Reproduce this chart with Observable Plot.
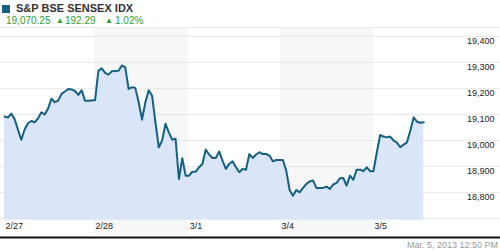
<!DOCTYPE html>
<html>
<head>
<meta charset="utf-8">
<script src="https://cdn.jsdelivr.net/npm/d3@7"></script>
<script src="https://cdn.jsdelivr.net/npm/@observablehq/plot@0.6"></script>
<style>
  html, body { margin: 0; padding: 0; background: #fff; overflow: hidden; }
  body { width: 500px; height: 250px; font-family: Arial, "Liberation Sans", sans-serif; }
  #header { position: relative; height: 27px; border-bottom: 1px solid #ececec; }
  #header .icon { position: absolute; left: 2px; top: 5px; width: 8px; height: 8px; background: #1a5f7e; }
  #header .title { position: absolute; left: 16px; top: 2px; font-size: 11px; font-weight: bold; color: #333; white-space: nowrap; }
  #header .quote { position: absolute; top: 14.5px; font-size: 10px; color: #2e9e2e; white-space: nowrap; }
  #header .tri { position: absolute; top: 16px; font-size: 8px; color: #2e9e2e; }
  #chart { height: 212px; }
  #caption { height: 10px; text-align: right; padding-right: 2px; font-size: 9px; color: #999; line-height: 10px; }
</style>
</head>
<body>
<div id="header">
  <div class="icon"></div>
  <div class="title">S&amp;P BSE SENSEX IDX</div>
  <div class="quote" style="left:6px">19,070.25</div>
  <div class="tri" style="left:56px">&#9650;</div>
  <div class="quote" style="left:65px">192.29</div>
  <div class="tri" style="left:105px">&#9650;</div>
  <div class="quote" style="left:115px">1.02%</div>
</div>
<div id="chart"></div>
<div id="caption">Mar. 5, 2013 12:50 PM</div>
<script>
// Index level per ~15-minute interval, 2/27 to 3/5 (midday)
const values = [
  19092, 19088, 19103, 19083, 19042, 19003, 19042, 19066, 19075, 19070,
  19085, 19108, 19100, 19123, 19160, 19147, 19153, 19179, 19188, 19198,
  19196, 19190, 19175, 19193, 19153, 19153, 19154, 19155, 19268, 19277,
  19260, 19253, 19266, 19267, 19268, 19288, 19281, 19198, 19204, 19202,
  19147, 19080, 19147, 19193, 19172, 19070, 18974, 19000, 19064, 19031,
  19003, 19007, 18852, 18932, 18865, 18865, 18880, 18880, 18897, 18910,
  18965, 18946, 18933, 18933, 18958, 18923, 18891, 18910, 18920, 18897,
  18878, 18891, 18888, 18948, 18933, 18946, 18955, 18948, 18948, 18942,
  18920, 18925, 18925, 18925, 18884, 18810, 18788, 18810, 18801, 18818,
  18833, 18843, 18846, 18818, 18818, 18818, 18823, 18814, 18831, 18837,
  18855, 18856, 18827, 18865, 18849, 18888, 18888, 18882, 18897, 18882,
  18882, 18955, 19021, 19015, 19012, 19015, 19000, 18992, 18974, 18984,
  18993, 19038, 19089, 19072, 19068, 19070.25
];
// Session boundaries (in interval units) and their labels
const dayStarts = [0, 26.8, 54.9, 82.3, 110];
const dayEnds = [26.8, 54.9, 82.3, 110, 137.5];
const dayLabels = ["2/27", "2/28", "3/1", "3/4", "3/5"];
const shadedDays = ["2/28", "3/4"];
const gridTicks = [18700, 18800, 18900, 19000, 19100, 19200, 19300, 19400];
const labelTicks = [18800, 18900, 19000, 19100, 19200, 19300, 19400];
const yDomain = [18639, 19430];
const areaBase = 18694;

const series = values.map((v, i) => ({i, v}));
const days = dayLabels.map((label, k) => ({label, start: dayStarts[k], end: dayEnds[k]}));
const bands = days.filter(d => shadedDays.includes(d.label));
const fmt = d3.format(",");

const chart = Plot.plot({
  width: 500,
  height: 212,
  marginTop: 0,
  marginBottom: 6,
  marginLeft: 0,
  marginRight: 0,
  style: {fontFamily: "Arial, 'Liberation Sans', sans-serif", background: "transparent"},
  x: {domain: [0, dayEnds[dayEnds.length - 1]], range: [4, 465.2], axis: null},
  y: {domain: yDomain, axis: null},
  marks: [
    Plot.rect(bands, {x1: "start", x2: "end", fill: "#f7f7f7"}),
    Plot.gridY(gridTicks, {stroke: "#e8e8e8", strokeOpacity: 1}),
    Plot.areaY(series, {x: "i", y1: areaBase, y2: "v", fill: "#dae6f8"}),
    Plot.lineY(series, {x: "i", y: "v", stroke: "#14607f", strokeWidth: 2}),
    Plot.text(labelTicks, {y: d => d, text: d => fmt(d), frameAnchor: "right", textAnchor: "end", dx: -6, dy: 5, fontSize: 9, fill: "#222"}),
    Plot.text(days, {x: "start", text: "label", frameAnchor: "bottom", textAnchor: "start", dx: 1, dy: -6, fontSize: 9, fill: "#222"}),
    Plot.ruleY([yDomain[0]], {stroke: "#111", strokeWidth: 2, dy: 3})
  ]
});
document.getElementById("chart").appendChild(chart);
</script>
</body>
</html>
